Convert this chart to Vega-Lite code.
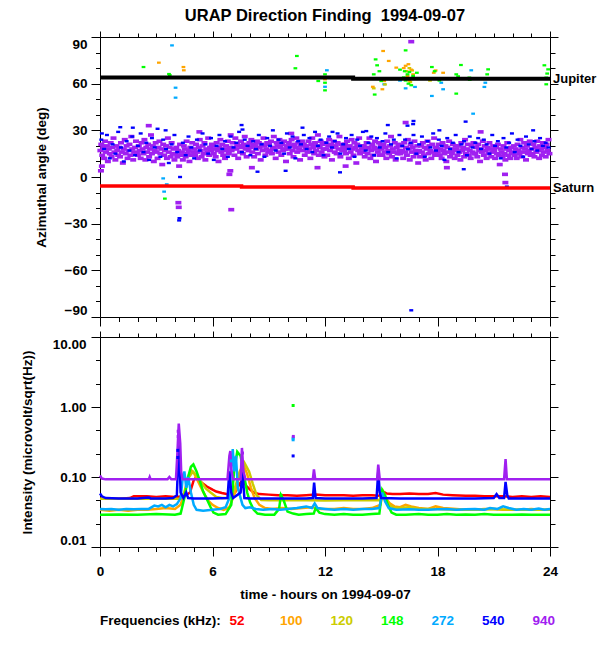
{
  "$schema": "https://vega.github.io/schema/vega-lite/v6.json",
  "background": "white",
  "padding": {"left": 19, "top": 7, "right": 2, "bottom": 2},
  "config": {
    "font": "Liberation Sans",
    "view": {"stroke": "black", "strokeWidth": 1},
    "axis": {
      "domain": false,
      "grid": false,
      "tickColor": "black",
      "tickWidth": 1,
      "labelColor": "black",
      "labelFontSize": 13.5,
      "labelFontWeight": "bold",
      "labelOverlap": false,
      "labelBound": false,
      "titleColor": "black",
      "titleFontSize": 13.5,
      "titleFontWeight": "bold"
    }
  },
  "datasets": {
    "p940": [
      {"t":0.02,"a":17},{"t":0.07,"a":21},{"t":0.12,"a":14},{"t":0.17,"a":19},{"t":0.22,"a":12},{"t":0.27,"a":23},{"t":0.32,"a":16},{"t":0.37,"a":20},{"t":0.42,"a":10},{"t":0.47,"a":18},{"t":0.52,"a":15},{"t":0.57,"a":22},{"t":0.62,"a":13},{"t":0.67,"a":19},{"t":0.72,"a":25},{"t":0.77,"a":16},{"t":0.82,"a":11},{"t":0.87,"a":20},{"t":0.92,"a":17},{"t":0.97,"a":14},
      {"t":1.02,"a":19},{"t":1.07,"a":13},{"t":1.12,"a":22},{"t":1.17,"a":16},{"t":1.22,"a":9},{"t":1.27,"a":18},{"t":1.32,"a":24},{"t":1.37,"a":15},{"t":1.42,"a":20},{"t":1.47,"a":12},{"t":1.52,"a":17},{"t":1.57,"a":21},{"t":1.62,"a":14},{"t":1.67,"a":26},{"t":1.72,"a":18},{"t":1.77,"a":11},{"t":1.82,"a":16},{"t":1.87,"a":19},{"t":1.92,"a":23},{"t":1.97,"a":15},
      {"t":2.02,"a":14},{"t":2.07,"a":20},{"t":2.12,"a":17},{"t":2.17,"a":12},{"t":2.22,"a":22},{"t":2.27,"a":18},{"t":2.32,"a":15},{"t":2.37,"a":24},{"t":2.42,"a":11},{"t":2.47,"a":19},{"t":2.52,"a":16},{"t":2.57,"a":21},{"t":2.62,"a":13},{"t":2.67,"a":18},{"t":2.72,"a":27},{"t":2.77,"a":15},{"t":2.82,"a":20},{"t":2.87,"a":10},{"t":2.92,"a":17},{"t":2.97,"a":22},
      {"t":3.02,"a":16},{"t":3.07,"a":12},{"t":3.12,"a":19},{"t":3.17,"a":23},{"t":3.22,"a":15},{"t":3.27,"a":18},{"t":3.32,"a":8},{"t":3.37,"a":21},{"t":3.42,"a":14},{"t":3.47,"a":17},{"t":3.52,"a":20},{"t":3.57,"a":12},{"t":3.62,"a":25},{"t":3.67,"a":16},{"t":3.72,"a":19},{"t":3.77,"a":13},{"t":3.82,"a":22},{"t":3.87,"a":15},{"t":3.92,"a":18},{"t":3.97,"a":11},
      {"t":4.02,"a":15},{"t":4.07,"a":19},{"t":4.12,"a":13},{"t":4.17,"a":17},{"t":4.22,"a":7},{"t":4.27,"a":21},{"t":4.32,"a":14},{"t":4.37,"a":16},{"t":4.42,"a":11},{"t":4.47,"a":20},{"t":4.52,"a":18},{"t":4.57,"a":13},{"t":4.62,"a":23},{"t":4.67,"a":15},{"t":4.72,"a":17},{"t":4.77,"a":10},{"t":4.82,"a":19},{"t":4.87,"a":14},{"t":4.92,"a":22},{"t":4.97,"a":16},
      {"t":5.02,"a":18},{"t":5.07,"a":14},{"t":5.12,"a":21},{"t":5.17,"a":16},{"t":5.22,"a":12},{"t":5.27,"a":19},{"t":5.32,"a":24},{"t":5.37,"a":17},{"t":5.42,"a":13},{"t":5.47,"a":20},{"t":5.52,"a":15},{"t":5.57,"a":22},{"t":5.62,"a":11},{"t":5.67,"a":18},{"t":5.72,"a":16},{"t":5.77,"a":25},{"t":5.82,"a":14},{"t":5.87,"a":19},{"t":5.92,"a":17},{"t":5.97,"a":21},
      {"t":6.02,"a":20},{"t":6.07,"a":15},{"t":6.12,"a":18},{"t":6.17,"a":13},{"t":6.22,"a":22},{"t":6.27,"a":17},{"t":6.32,"a":10},{"t":6.37,"a":19},{"t":6.42,"a":24},{"t":6.47,"a":16},{"t":6.52,"a":21},{"t":6.57,"a":14},{"t":6.62,"a":18},{"t":6.67,"a":12},{"t":6.72,"a":20},{"t":6.77,"a":17},{"t":6.82,"a":23},{"t":6.87,"a":15},{"t":6.92,"a":19},{"t":6.97,"a":27},
      {"t":7.02,"a":17},{"t":7.07,"a":22},{"t":7.12,"a":19},{"t":7.17,"a":14},{"t":7.22,"a":25},{"t":7.27,"a":18},{"t":7.32,"a":21},{"t":7.37,"a":12},{"t":7.42,"a":20},{"t":7.47,"a":16},{"t":7.52,"a":23},{"t":7.57,"a":19},{"t":7.62,"a":15},{"t":7.67,"a":21},{"t":7.72,"a":26},{"t":7.77,"a":18},{"t":7.82,"a":13},{"t":7.87,"a":20},{"t":7.92,"a":17},{"t":7.97,"a":22},
      {"t":8.02,"a":19},{"t":8.07,"a":24},{"t":8.12,"a":16},{"t":8.17,"a":21},{"t":8.22,"a":13},{"t":8.27,"a":20},{"t":8.32,"a":18},{"t":8.37,"a":23},{"t":8.42,"a":15},{"t":8.47,"a":22},{"t":8.52,"a":19},{"t":8.57,"a":11},{"t":8.62,"a":21},{"t":8.67,"a":17},{"t":8.72,"a":25},{"t":8.77,"a":20},{"t":8.82,"a":14},{"t":8.87,"a":18},{"t":8.92,"a":22},{"t":8.97,"a":16},
      {"t":9.02,"a":21},{"t":9.07,"a":17},{"t":9.12,"a":23},{"t":9.17,"a":15},{"t":9.22,"a":19},{"t":9.27,"a":26},{"t":9.32,"a":18},{"t":9.37,"a":12},{"t":9.42,"a":22},{"t":9.47,"a":20},{"t":9.52,"a":16},{"t":9.57,"a":24},{"t":9.62,"a":19},{"t":9.67,"a":14},{"t":9.72,"a":21},{"t":9.77,"a":17},{"t":9.82,"a":23},{"t":9.87,"a":18},{"t":9.92,"a":10},{"t":9.97,"a":20},
      {"t":10.02,"a":18},{"t":10.07,"a":22},{"t":10.12,"a":15},{"t":10.17,"a":20},{"t":10.22,"a":24},{"t":10.27,"a":17},{"t":10.32,"a":13},{"t":10.37,"a":21},{"t":10.42,"a":19},{"t":10.47,"a":25},{"t":10.52,"a":16},{"t":10.57,"a":22},{"t":10.62,"a":18},{"t":10.67,"a":11},{"t":10.72,"a":20},{"t":10.77,"a":23},{"t":10.82,"a":17},{"t":10.87,"a":21},{"t":10.92,"a":14},{"t":10.97,"a":19},
      {"t":11.02,"a":20},{"t":11.07,"a":16},{"t":11.12,"a":23},{"t":11.17,"a":18},{"t":11.22,"a":12},{"t":11.27,"a":21},{"t":11.32,"a":25},{"t":11.37,"a":19},{"t":11.42,"a":15},{"t":11.47,"a":22},{"t":11.52,"a":17},{"t":11.57,"a":20},{"t":11.62,"a":27},{"t":11.67,"a":14},{"t":11.72,"a":19},{"t":11.77,"a":23},{"t":11.82,"a":16},{"t":11.87,"a":21},{"t":11.92,"a":18},{"t":11.97,"a":13},
      {"t":12.02,"a":22},{"t":12.07,"a":18},{"t":12.12,"a":14},{"t":12.17,"a":20},{"t":12.22,"a":24},{"t":12.27,"a":17},{"t":12.32,"a":21},{"t":12.37,"a":11},{"t":12.42,"a":19},{"t":12.47,"a":23},{"t":12.52,"a":16},{"t":12.57,"a":20},{"t":12.62,"a":15},{"t":12.67,"a":22},{"t":12.72,"a":18},{"t":12.77,"a":26},{"t":12.82,"a":13},{"t":12.87,"a":21},{"t":12.92,"a":17},{"t":12.97,"a":19},
      {"t":13.02,"a":17},{"t":13.07,"a":21},{"t":13.12,"a":15},{"t":13.17,"a":23},{"t":13.22,"a":19},{"t":13.27,"a":12},{"t":13.32,"a":20},{"t":13.37,"a":16},{"t":13.42,"a":24},{"t":13.47,"a":18},{"t":13.52,"a":14},{"t":13.57,"a":22},{"t":13.62,"a":19},{"t":13.67,"a":9},{"t":13.72,"a":21},{"t":13.77,"a":17},{"t":13.82,"a":25},{"t":13.87,"a":15},{"t":13.92,"a":20},{"t":13.97,"a":18},
      {"t":14.02,"a":16},{"t":14.07,"a":20},{"t":14.12,"a":13},{"t":14.17,"a":18},{"t":14.22,"a":22},{"t":14.27,"a":15},{"t":14.32,"a":19},{"t":14.37,"a":25},{"t":14.42,"a":12},{"t":14.47,"a":17},{"t":14.52,"a":21},{"t":14.57,"a":14},{"t":14.62,"a":19},{"t":14.67,"a":23},{"t":14.72,"a":10},{"t":14.77,"a":18},{"t":14.82,"a":16},{"t":14.87,"a":22},{"t":14.92,"a":14},{"t":14.97,"a":20},
      {"t":15.02,"a":18},{"t":15.07,"a":14},{"t":15.12,"a":21},{"t":15.17,"a":16},{"t":15.22,"a":19},{"t":15.27,"a":12},{"t":15.32,"a":23},{"t":15.37,"a":17},{"t":15.42,"a":15},{"t":15.47,"a":20},{"t":15.52,"a":26},{"t":15.57,"a":13},{"t":15.62,"a":18},{"t":15.67,"a":16},{"t":15.72,"a":22},{"t":15.77,"a":11},{"t":15.82,"a":19},{"t":15.87,"a":15},{"t":15.92,"a":21},{"t":15.97,"a":17},
      {"t":16.02,"a":15},{"t":16.07,"a":20},{"t":16.12,"a":17},{"t":16.17,"a":12},{"t":16.22,"a":22},{"t":16.27,"a":16},{"t":16.32,"a":19},{"t":16.37,"a":14},{"t":16.42,"a":24},{"t":16.47,"a":18},{"t":16.52,"a":11},{"t":16.57,"a":21},{"t":16.62,"a":16},{"t":16.67,"a":19},{"t":16.72,"a":13},{"t":16.77,"a":23},{"t":16.82,"a":17},{"t":16.87,"a":15},{"t":16.92,"a":20},{"t":16.97,"a":9},
      {"t":17.02,"a":17},{"t":17.07,"a":13},{"t":17.12,"a":20},{"t":17.17,"a":16},{"t":17.22,"a":22},{"t":17.27,"a":14},{"t":17.32,"a":19},{"t":17.37,"a":11},{"t":17.42,"a":18},{"t":17.47,"a":23},{"t":17.52,"a":15},{"t":17.57,"a":20},{"t":17.62,"a":17},{"t":17.67,"a":12},{"t":17.72,"a":21},{"t":17.77,"a":16},{"t":17.82,"a":25},{"t":17.87,"a":14},{"t":17.92,"a":19},{"t":17.97,"a":18},
      {"t":18.02,"a":16},{"t":18.07,"a":21},{"t":18.12,"a":14},{"t":18.17,"a":18},{"t":18.22,"a":12},{"t":18.27,"a":22},{"t":18.32,"a":17},{"t":18.37,"a":15},{"t":18.42,"a":20},{"t":18.47,"a":10},{"t":18.52,"a":19},{"t":18.57,"a":16},{"t":18.62,"a":23},{"t":18.67,"a":13},{"t":18.72,"a":18},{"t":18.77,"a":15},{"t":18.82,"a":21},{"t":18.87,"a":17},{"t":18.92,"a":12},{"t":18.97,"a":20},
      {"t":19.02,"a":18},{"t":19.07,"a":14},{"t":19.12,"a":20},{"t":19.17,"a":16},{"t":19.22,"a":11},{"t":19.27,"a":22},{"t":19.32,"a":17},{"t":19.37,"a":19},{"t":19.42,"a":13},{"t":19.47,"a":24},{"t":19.52,"a":15},{"t":19.57,"a":18},{"t":19.62,"a":21},{"t":19.67,"a":14},{"t":19.72,"a":17},{"t":19.77,"a":12},{"t":19.82,"a":20},{"t":19.87,"a":16},{"t":19.92,"a":22},{"t":19.97,"a":15},
      {"t":20.02,"a":15},{"t":20.07,"a":19},{"t":20.12,"a":13},{"t":20.17,"a":21},{"t":20.22,"a":17},{"t":20.27,"a":10},{"t":20.32,"a":18},{"t":20.37,"a":16},{"t":20.42,"a":23},{"t":20.47,"a":14},{"t":20.52,"a":20},{"t":20.57,"a":17},{"t":20.62,"a":12},{"t":20.67,"a":19},{"t":20.72,"a":15},{"t":20.77,"a":22},{"t":20.82,"a":18},{"t":20.87,"a":13},{"t":20.92,"a":16},{"t":20.97,"a":20},
      {"t":21.02,"a":17},{"t":21.07,"a":12},{"t":21.12,"a":19},{"t":21.17,"a":15},{"t":21.22,"a":21},{"t":21.27,"a":14},{"t":21.32,"a":8},{"t":21.37,"a":18},{"t":21.42,"a":16},{"t":21.47,"a":13},{"t":21.52,"a":20},{"t":21.57,"a":15},{"t":21.62,"a":11},{"t":21.67,"a":18},{"t":21.72,"a":22},{"t":21.77,"a":14},{"t":21.82,"a":17},{"t":21.87,"a":12},{"t":21.92,"a":19},{"t":21.97,"a":15},
      {"t":22.02,"a":16},{"t":22.07,"a":20},{"t":22.12,"a":14},{"t":22.17,"a":18},{"t":22.22,"a":12},{"t":22.27,"a":21},{"t":22.32,"a":17},{"t":22.37,"a":15},{"t":22.42,"a":24},{"t":22.47,"a":13},{"t":22.52,"a":19},{"t":22.57,"a":16},{"t":22.62,"a":22},{"t":22.67,"a":18},{"t":22.72,"a":11},{"t":22.77,"a":20},{"t":22.82,"a":15},{"t":22.87,"a":17},{"t":22.92,"a":23},{"t":22.97,"a":14},
      {"t":23.02,"a":18},{"t":23.07,"a":15},{"t":23.12,"a":21},{"t":23.17,"a":13},{"t":23.22,"a":19},{"t":23.27,"a":16},{"t":23.32,"a":23},{"t":23.37,"a":17},{"t":23.42,"a":12},{"t":23.47,"a":20},{"t":23.52,"a":18},{"t":23.57,"a":14},{"t":23.62,"a":22},{"t":23.67,"a":16},{"t":23.72,"a":19},{"t":23.77,"a":13},{"t":23.82,"a":21},{"t":23.87,"a":17},{"t":23.92,"a":24},{"t":23.97,"a":15},
      {"t":2.6,"a":33},{"t":6.9,"a":1.7},{"t":6.95,"a":4},{"t":7.0,"a":-21},{"t":16.3,"a":35},{"t":16.6,"a":87},{"t":21.6,"a":1.7},{"t":21.62,"a":-3.6},{"t":4.18,"a":-16.5},{"t":4.2,"a":-19.5},{"t":8.1,"a":6},{"t":13.1,"a":7},{"t":18.5,"a":6},{"t":10.2,"a":28},{"t":5.3,"a":29},{"t":20.3,"a":29},{"t":0.05,"a":4},{"t":0.1,"a":7},{"t":11.6,"a":6}
    ],
    "b540": [
      {"t":0.07,"a":24},{"t":0.22,"a":18},{"t":0.37,"a":27},{"t":0.52,"a":12},{"t":0.67,"a":21},{"t":0.82,"a":15},{"t":0.97,"a":29},{"t":1.12,"a":19},{"t":1.27,"a":10},{"t":1.42,"a":23},{"t":1.57,"a":17},{"t":1.72,"a":26},{"t":1.87,"a":14},{"t":2.02,"a":20},{"t":2.17,"a":28},{"t":2.32,"a":16},{"t":2.47,"a":22},{"t":2.62,"a":11},{"t":2.77,"a":25},{"t":2.92,"a":19},{"t":3.07,"a":31},{"t":3.22,"a":13},{"t":3.37,"a":24},{"t":3.52,"a":18},{"t":3.67,"a":9},{"t":3.82,"a":21},{"t":3.97,"a":27},
      {"t":4.12,"a":16},{"t":4.27,"a":0},{"t":4.42,"a":22},{"t":4.57,"a":14},{"t":4.72,"a":26},{"t":4.87,"a":19},{"t":5.02,"a":12},{"t":5.17,"a":24},{"t":5.32,"a":17},{"t":5.47,"a":28},{"t":5.62,"a":21},{"t":5.77,"a":15},{"t":5.92,"a":25},{"t":6.07,"a":11},{"t":6.22,"a":20},{"t":6.37,"a":27},{"t":6.52,"a":18},{"t":6.67,"a":23},{"t":6.82,"a":13},{"t":6.97,"a":26},{"t":7.12,"a":19},{"t":7.27,"a":22},{"t":7.42,"a":29},{"t":7.57,"a":16},{"t":7.72,"a":24},{"t":7.87,"a":20},{"t":8.02,"a":14},
      {"t":8.17,"a":23},{"t":8.32,"a":18},{"t":8.47,"a":27},{"t":8.62,"a":21},{"t":8.77,"a":13},{"t":8.92,"a":25},{"t":9.07,"a":20},{"t":9.22,"a":30},{"t":9.37,"a":17},{"t":9.52,"a":24},{"t":9.67,"a":22},{"t":9.82,"a":15},{"t":9.97,"a":28},{"t":10.12,"a":19},{"t":10.27,"a":26},{"t":10.42,"a":12},{"t":10.57,"a":23},{"t":10.72,"a":21},{"t":10.87,"a":27},{"t":11.02,"a":18},{"t":11.17,"a":25},{"t":11.32,"a":16},{"t":11.47,"a":29},{"t":11.62,"a":20},{"t":11.77,"a":24},{"t":11.92,"a":14},{"t":12.07,"a":22},
      {"t":12.22,"a":26},{"t":12.37,"a":19},{"t":12.52,"a":23},{"t":12.67,"a":28},{"t":12.82,"a":15},{"t":12.97,"a":21},{"t":13.12,"a":25},{"t":13.27,"a":18},{"t":13.42,"a":27},{"t":13.57,"a":13},{"t":13.72,"a":24},{"t":13.87,"a":20},{"t":14.02,"a":29},{"t":14.17,"a":17},{"t":14.32,"a":22},{"t":14.47,"a":26},{"t":14.62,"a":14},{"t":14.77,"a":25},{"t":14.92,"a":19},{"t":15.07,"a":23},{"t":15.22,"a":28},{"t":15.37,"a":16},{"t":15.52,"a":21},{"t":15.67,"a":24},{"t":15.82,"a":12},{"t":15.97,"a":27},{"t":16.12,"a":20},
      {"t":16.27,"a":24},{"t":16.42,"a":18},{"t":16.57,"a":22},{"t":16.72,"a":27},{"t":16.87,"a":15},{"t":17.02,"a":21},{"t":17.17,"a":26},{"t":17.32,"a":13},{"t":17.47,"a":23},{"t":17.62,"a":19},{"t":17.77,"a":28},{"t":17.92,"a":17},{"t":18.07,"a":24},{"t":18.22,"a":20},{"t":18.37,"a":11},{"t":18.52,"a":25},{"t":18.67,"a":18},{"t":18.82,"a":22},{"t":18.97,"a":27},{"t":19.12,"a":16},{"t":19.27,"a":21},{"t":19.42,"a":23},{"t":19.57,"a":14},{"t":19.72,"a":26},{"t":19.87,"a":19},{"t":20.02,"a":22},{"t":20.17,"a":25},
      {"t":20.32,"a":18},{"t":20.47,"a":24},{"t":20.62,"a":21},{"t":20.77,"a":15},{"t":20.92,"a":27},{"t":21.07,"a":20},{"t":21.22,"a":23},{"t":21.37,"a":12},{"t":21.52,"a":25},{"t":21.67,"a":19},{"t":21.82,"a":22},{"t":21.97,"a":28},{"t":22.12,"a":16},{"t":22.27,"a":24},{"t":22.42,"a":20},{"t":22.57,"a":13},{"t":22.72,"a":26},{"t":22.87,"a":21},{"t":23.02,"a":18},{"t":23.17,"a":23},{"t":23.32,"a":17},{"t":23.47,"a":25},{"t":23.62,"a":20},{"t":23.77,"a":22},{"t":23.92,"a":19},
      {"t":4.22,"a":-27.9},{"t":4.24,"a":-26.5},{"t":7.55,"a":33.4},{"t":10.8,"a":31.7},{"t":1.08,"a":32},{"t":1.75,"a":31.7},{"t":15.35,"a":33.4},{"t":16.4,"a":33},{"t":16.7,"a":34},{"t":16.72,"a":36},{"t":16.6,"a":-85.7},{"t":19.5,"a":35.6},{"t":23.1,"a":30},{"t":21.7,"a":-6.2},{"t":8.4,"a":3.4},{"t":19.4,"a":5},{"t":7.6,"a":30.5},{"t":12.4,"a":29},{"t":14.2,"a":29.5},{"t":18.1,"a":30},{"t":3.5,"a":30},{"t":12.8,"a":3},{"t":9.9,"a":4},{"t":0.1,"a":28}
    ],
    "c272": [
      {"t":3.84,"a":84.6},{"t":4.03,"a":57.4},{"t":4.03,"a":51},{"t":3.37,"a":-0.9},{"t":3.42,"a":-9.4},{"t":3.56,"a":-4.7},{"t":12.1,"a":68.6},{"t":12.0,"a":58},{"t":15.16,"a":59.6},{"t":16.8,"a":57.9},{"t":18.2,"a":60.6},{"t":18.3,"a":56.4},{"t":17.7,"a":52.1},{"t":19.8,"a":68.6},{"t":19.9,"a":40.7},{"t":20.5,"a":57.9},{"t":20.55,"a":60.6},{"t":16.3,"a":57},{"t":16.0,"a":62}
    ],
    "g148": [
      {"t":2.32,"a":70.7},{"t":3.7,"a":64},{"t":3.72,"a":65.5},{"t":3.68,"a":66.2},{"t":3.46,"a":-13.9},{"t":10.5,"a":77.8},{"t":10.42,"a":69.9},{"t":11.64,"a":61.7},{"t":12.0,"a":66},{"t":12.0,"a":60.6},{"t":12.0,"a":55.7},{"t":14.7,"a":75.6},{"t":14.78,"a":71.8},{"t":14.6,"a":66},{"t":14.9,"a":68},{"t":14.65,"a":53},{"t":15.0,"a":61.7},{"t":16.3,"a":81.4},{"t":16.2,"a":64},{"t":16.3,"a":62},{"t":16.4,"a":66},{"t":16.45,"a":60},{"t":16.5,"a":67.5},{"t":16.55,"a":63},{"t":16.6,"a":59},{"t":16.7,"a":65},{"t":16.25,"a":68},{"t":16.9,"a":67},{"t":17.7,"a":70.7},{"t":17.85,"a":68},{"t":19.0,"a":66},{"t":19.1,"a":64.7},{"t":19.25,"a":72},{"t":19.0,"a":53.6},{"t":19.7,"a":63.9},{"t":19.72,"a":62.5},{"t":20.7,"a":69.2},{"t":20.65,"a":66},{"t":23.7,"a":71.8},{"t":23.8,"a":63.9},{"t":23.8,"a":59.6},{"t":23.9,"a":69.2},{"t":23.85,"a":66.5},{"t":16.0,"a":69},{"t":15.5,"a":63},{"t":18.1,"a":62}
    ],
    "o100": [
      {"t":3.14,"a":73.5},{"t":4.45,"a":70.7},{"t":4.47,"a":68.6},{"t":12.0,"a":62.8},{"t":15.1,"a":81},{"t":15.4,"a":74.6},{"t":15.16,"a":61.7},{"t":15.06,"a":56.4},{"t":15.8,"a":70.3},{"t":16.2,"a":70},{"t":16.3,"a":71.5},{"t":16.35,"a":68},{"t":16.4,"a":65},{"t":16.5,"a":62},{"t":16.45,"a":72.5},{"t":16.6,"a":69},{"t":16.7,"a":66},{"t":17.8,"a":67},{"t":17.9,"a":68.5},{"t":18.3,"a":67},{"t":14.55,"a":58}
    ],
    "y120": [
      {"t":16.4,"a":63},{"t":16.5,"a":70},{"t":16.55,"a":61},{"t":15.2,"a":59.5},{"t":14.6,"a":57},{"t":17.6,"a":62},{"t":16.65,"a":68.5}
    ],
    "jup": [
      {"t":0,"a":63.9},{"t":13.5,"a":63.2},{"t":24,"a":63.2}
    ],
    "sat": [
      {"t":0,"a":-5.8},{"t":7.55,"a":-6.4},{"t":13.5,"a":-7.1},{"t":24,"a":-7.1}
    ],
    "names": [
      {"t":24,"a":63.2,"n":"Jupiter"},{"t":24,"a":-7.1,"n":"Saturn"}
    ],
    "int": [
      {"t":0,"v":0.049,"f":"52"},{"t":0.5,"v":0.049,"f":"52"},{"t":1,"v":0.049,"f":"52"},{"t":1.6,"v":0.05,"f":"52"},{"t":1.8,"v":0.053,"f":"52"},{"t":2.5,"v":0.053,"f":"52"},{"t":3,"v":0.052,"f":"52"},{"t":3.5,"v":0.053,"f":"52"},{"t":4,"v":0.052,"f":"52"},{"t":4.5,"v":0.053,"f":"52"},{"t":4.8,"v":0.06,"f":"52"},{"t":5,"v":0.09,"f":"52"},{"t":5.1,"v":0.097,"f":"52"},{"t":5.3,"v":0.088,"f":"52"},{"t":5.5,"v":0.08,"f":"52"},{"t":5.7,"v":0.073,"f":"52"},{"t":6,"v":0.066,"f":"52"},{"t":6.2,"v":0.062,"f":"52"},{"t":6.5,"v":0.059,"f":"52"},{"t":6.75,"v":0.057,"f":"52"},{"t":7,"v":0.056,"f":"52"},{"t":7.2,"v":0.06,"f":"52"},{"t":7.45,"v":0.08,"f":"52"},{"t":7.6,"v":0.09,"f":"52"},{"t":7.8,"v":0.075,"f":"52"},{"t":8,"v":0.066,"f":"52"},{"t":8.2,"v":0.06,"f":"52"},{"t":8.5,"v":0.057,"f":"52"},{"t":9,"v":0.056,"f":"52"},{"t":9.5,"v":0.055,"f":"52"},{"t":10,"v":0.055,"f":"52"},{"t":10.5,"v":0.054,"f":"52"},{"t":11,"v":0.055,"f":"52"},{"t":11.5,"v":0.056,"f":"52"},{"t":12,"v":0.055,"f":"52"},{"t":12.5,"v":0.055,"f":"52"},{"t":13,"v":0.055,"f":"52"},{"t":13.5,"v":0.054,"f":"52"},{"t":14,"v":0.055,"f":"52"},{"t":14.5,"v":0.055,"f":"52"},{"t":14.9,"v":0.054,"f":"52"},{"t":15.1,"v":0.062,"f":"52"},{"t":15.3,"v":0.058,"f":"52"},{"t":15.6,"v":0.057,"f":"52"},{"t":16,"v":0.057,"f":"52"},{"t":16.5,"v":0.058,"f":"52"},{"t":17,"v":0.057,"f":"52"},{"t":17.5,"v":0.057,"f":"52"},{"t":17.9,"v":0.059,"f":"52"},{"t":18.3,"v":0.056,"f":"52"},{"t":18.8,"v":0.055,"f":"52"},{"t":19.5,"v":0.054,"f":"52"},{"t":20,"v":0.054,"f":"52"},{"t":20.5,"v":0.053,"f":"52"},{"t":21,"v":0.053,"f":"52"},{"t":21.5,"v":0.053,"f":"52"},{"t":22,"v":0.052,"f":"52"},{"t":22.5,"v":0.053,"f":"52"},{"t":23,"v":0.052,"f":"52"},{"t":23.5,"v":0.053,"f":"52"},{"t":24,"v":0.052,"f":"52"},
      {"t":0,"v":0.034,"f":"100"},{"t":0.5,"v":0.033,"f":"100"},{"t":1,"v":0.034,"f":"100"},{"t":1.5,"v":0.033,"f":"100"},{"t":2,"v":0.034,"f":"100"},{"t":2.5,"v":0.034,"f":"100"},{"t":3,"v":0.035,"f":"100"},{"t":3.5,"v":0.036,"f":"100"},{"t":4,"v":0.035,"f":"100"},{"t":4.3,"v":0.04,"f":"100"},{"t":4.5,"v":0.06,"f":"100"},{"t":4.7,"v":0.1,"f":"100"},{"t":4.85,"v":0.125,"f":"100"},{"t":5,"v":0.115,"f":"100"},{"t":5.2,"v":0.09,"f":"100"},{"t":5.4,"v":0.07,"f":"100"},{"t":5.6,"v":0.055,"f":"100"},{"t":5.8,"v":0.045,"f":"100"},{"t":6,"v":0.04,"f":"100"},{"t":6.3,"v":0.036,"f":"100"},{"t":6.6,"v":0.034,"f":"100"},{"t":6.9,"v":0.037,"f":"100"},{"t":7.2,"v":0.06,"f":"100"},{"t":7.45,"v":0.11,"f":"100"},{"t":7.65,"v":0.15,"f":"100"},{"t":7.85,"v":0.11,"f":"100"},{"t":8.05,"v":0.07,"f":"100"},{"t":8.25,"v":0.05,"f":"100"},{"t":8.5,"v":0.04,"f":"100"},{"t":8.8,"v":0.036,"f":"100"},{"t":9.2,"v":0.035,"f":"100"},{"t":9.7,"v":0.036,"f":"100"},{"t":10.2,"v":0.035,"f":"100"},{"t":10.8,"v":0.036,"f":"100"},{"t":11.3,"v":0.037,"f":"100"},{"t":11.8,"v":0.035,"f":"100"},{"t":12.5,"v":0.035,"f":"100"},{"t":13,"v":0.036,"f":"100"},{"t":13.5,"v":0.035,"f":"100"},{"t":14,"v":0.035,"f":"100"},{"t":14.5,"v":0.036,"f":"100"},{"t":14.95,"v":0.04,"f":"100"},{"t":15.1,"v":0.062,"f":"100"},{"t":15.25,"v":0.05,"f":"100"},{"t":15.45,"v":0.042,"f":"100"},{"t":15.7,"v":0.038,"f":"100"},{"t":16,"v":0.037,"f":"100"},{"t":16.3,"v":0.04,"f":"100"},{"t":16.6,"v":0.038,"f":"100"},{"t":17,"v":0.036,"f":"100"},{"t":17.5,"v":0.035,"f":"100"},{"t":17.9,"v":0.038,"f":"100"},{"t":18.3,"v":0.036,"f":"100"},{"t":19,"v":0.035,"f":"100"},{"t":19.5,"v":0.034,"f":"100"},{"t":20,"v":0.034,"f":"100"},{"t":20.5,"v":0.035,"f":"100"},{"t":21,"v":0.035,"f":"100"},{"t":21.5,"v":0.034,"f":"100"},{"t":22,"v":0.034,"f":"100"},{"t":22.5,"v":0.034,"f":"100"},{"t":23,"v":0.035,"f":"100"},{"t":23.5,"v":0.034,"f":"100"},{"t":24,"v":0.034,"f":"100"},
      {"t":0,"v":0.049,"f":"120"},{"t":1,"v":0.049,"f":"120"},{"t":2,"v":0.049,"f":"120"},{"t":3,"v":0.049,"f":"120"},{"t":4.3,"v":0.049,"f":"120"},{"t":4.5,"v":0.06,"f":"120"},{"t":4.75,"v":0.1,"f":"120"},{"t":4.95,"v":0.12,"f":"120"},{"t":5.15,"v":0.105,"f":"120"},{"t":5.4,"v":0.085,"f":"120"},{"t":5.65,"v":0.068,"f":"120"},{"t":5.9,"v":0.06,"f":"120"},{"t":6.2,"v":0.052,"f":"120"},{"t":6.5,"v":0.05,"f":"120"},{"t":6.9,"v":0.05,"f":"120"},{"t":7.2,"v":0.07,"f":"120"},{"t":7.45,"v":0.12,"f":"120"},{"t":7.7,"v":0.16,"f":"120"},{"t":7.95,"v":0.12,"f":"120"},{"t":8.15,"v":0.08,"f":"120"},{"t":8.35,"v":0.055,"f":"120"},{"t":8.6,"v":0.047,"f":"120"},{"t":9,"v":0.0465,"f":"120"},{"t":10,"v":0.0465,"f":"120"},{"t":11,"v":0.0465,"f":"120"},{"t":12,"v":0.046,"f":"120"},{"t":13,"v":0.0465,"f":"120"},{"t":14,"v":0.0465,"f":"120"},{"t":14.9,"v":0.0465,"f":"120"},{"t":15.05,"v":0.06,"f":"120"},{"t":15.2,"v":0.05,"f":"120"},{"t":15.4,"v":0.04,"f":"120"},{"t":15.7,"v":0.036,"f":"120"},{"t":16,"v":0.036,"f":"120"},{"t":16.5,"v":0.037,"f":"120"},{"t":17,"v":0.035,"f":"120"},{"t":18,"v":0.035,"f":"120"},{"t":19,"v":0.034,"f":"120"},{"t":20,"v":0.034,"f":"120"},{"t":21,"v":0.035,"f":"120"},{"t":22,"v":0.034,"f":"120"},{"t":23,"v":0.034,"f":"120"},{"t":24,"v":0.034,"f":"120"},
      {"t":0,"v":0.029,"f":"148"},{"t":1,"v":0.0292,"f":"148"},{"t":2,"v":0.029,"f":"148"},{"t":3,"v":0.0295,"f":"148"},{"t":4,"v":0.029,"f":"148"},{"t":4.3,"v":0.03,"f":"148"},{"t":4.5,"v":0.05,"f":"148"},{"t":4.7,"v":0.1,"f":"148"},{"t":4.85,"v":0.14,"f":"148"},{"t":4.98,"v":0.151,"f":"148"},{"t":5.15,"v":0.12,"f":"148"},{"t":5.33,"v":0.087,"f":"148"},{"t":5.5,"v":0.062,"f":"148"},{"t":5.7,"v":0.048,"f":"148"},{"t":5.9,"v":0.037,"f":"148"},{"t":6.05,"v":0.031,"f":"148"},{"t":6.3,"v":0.029,"f":"148"},{"t":6.7,"v":0.0295,"f":"148"},{"t":7,"v":0.04,"f":"148"},{"t":7.15,"v":0.12,"f":"148"},{"t":7.32,"v":0.23,"f":"148"},{"t":7.5,"v":0.2,"f":"148"},{"t":7.7,"v":0.1,"f":"148"},{"t":7.85,"v":0.06,"f":"148"},{"t":8,"v":0.044,"f":"148"},{"t":8.2,"v":0.034,"f":"148"},{"t":8.4,"v":0.03,"f":"148"},{"t":8.8,"v":0.029,"f":"148"},{"t":9.3,"v":0.029,"f":"148"},{"t":9.55,"v":0.035,"f":"148"},{"t":9.65,"v":0.055,"f":"148"},{"t":9.8,"v":0.046,"f":"148"},{"t":10,"v":0.032,"f":"148"},{"t":10.3,"v":0.03,"f":"148"},{"t":10.6,"v":0.029,"f":"148"},{"t":11,"v":0.0295,"f":"148"},{"t":11.4,"v":0.03,"f":"148"},{"t":11.5,"v":0.036,"f":"148"},{"t":11.7,"v":0.031,"f":"148"},{"t":12,"v":0.0295,"f":"148"},{"t":12.5,"v":0.029,"f":"148"},{"t":13,"v":0.0295,"f":"148"},{"t":13.5,"v":0.029,"f":"148"},{"t":14,"v":0.029,"f":"148"},{"t":14.5,"v":0.0295,"f":"148"},{"t":14.9,"v":0.03,"f":"148"},{"t":15.05,"v":0.065,"f":"148"},{"t":15.2,"v":0.055,"f":"148"},{"t":15.35,"v":0.04,"f":"148"},{"t":15.55,"v":0.031,"f":"148"},{"t":15.8,"v":0.029,"f":"148"},{"t":16.3,"v":0.029,"f":"148"},{"t":17,"v":0.0295,"f":"148"},{"t":17.5,"v":0.029,"f":"148"},{"t":18,"v":0.029,"f":"148"},{"t":18.5,"v":0.0295,"f":"148"},{"t":19,"v":0.029,"f":"148"},{"t":19.5,"v":0.0292,"f":"148"},{"t":20,"v":0.029,"f":"148"},{"t":20.5,"v":0.0295,"f":"148"},{"t":21,"v":0.029,"f":"148"},{"t":21.5,"v":0.029,"f":"148"},{"t":22,"v":0.029,"f":"148"},{"t":22.5,"v":0.0292,"f":"148"},{"t":23,"v":0.029,"f":"148"},{"t":23.5,"v":0.029,"f":"148"},{"t":24,"v":0.029,"f":"148"},
      {"t":0,"v":0.035,"f":"272"},{"t":0.3,"v":0.0345,"f":"272"},{"t":0.6,"v":0.035,"f":"272"},{"t":1,"v":0.034,"f":"272"},{"t":1.4,"v":0.035,"f":"272"},{"t":1.8,"v":0.0345,"f":"272"},{"t":2.2,"v":0.035,"f":"272"},{"t":2.6,"v":0.035,"f":"272"},{"t":2.9,"v":0.039,"f":"272"},{"t":3.1,"v":0.038,"f":"272"},{"t":3.3,"v":0.04,"f":"272"},{"t":3.5,"v":0.037,"f":"272"},{"t":3.7,"v":0.04,"f":"272"},{"t":3.9,"v":0.038,"f":"272"},{"t":4.1,"v":0.041,"f":"272"},{"t":4.3,"v":0.05,"f":"272"},{"t":4.4,"v":0.09,"f":"272"},{"t":4.5,"v":0.12,"f":"272"},{"t":4.6,"v":0.07,"f":"272"},{"t":4.7,"v":0.1,"f":"272"},{"t":4.85,"v":0.06,"f":"272"},{"t":5,"v":0.04,"f":"272"},{"t":5.15,"v":0.034,"f":"272"},{"t":5.5,"v":0.033,"f":"272"},{"t":6,"v":0.034,"f":"272"},{"t":6.4,"v":0.035,"f":"272"},{"t":6.7,"v":0.037,"f":"272"},{"t":6.9,"v":0.05,"f":"272"},{"t":7,"v":0.15,"f":"272"},{"t":7.08,"v":0.25,"f":"272"},{"t":7.15,"v":0.12,"f":"272"},{"t":7.25,"v":0.2,"f":"272"},{"t":7.35,"v":0.07,"f":"272"},{"t":7.5,"v":0.05,"f":"272"},{"t":7.6,"v":0.04,"f":"272"},{"t":7.75,"v":0.036,"f":"272"},{"t":8,"v":0.037,"f":"272"},{"t":8.3,"v":0.035,"f":"272"},{"t":8.7,"v":0.034,"f":"272"},{"t":9.2,"v":0.035,"f":"272"},{"t":9.6,"v":0.034,"f":"272"},{"t":10,"v":0.035,"f":"272"},{"t":10.5,"v":0.036,"f":"272"},{"t":11,"v":0.038,"f":"272"},{"t":11.3,"v":0.036,"f":"272"},{"t":11.45,"v":0.042,"f":"272"},{"t":11.6,"v":0.036,"f":"272"},{"t":12,"v":0.035,"f":"272"},{"t":12.5,"v":0.034,"f":"272"},{"t":13,"v":0.035,"f":"272"},{"t":13.5,"v":0.034,"f":"272"},{"t":14,"v":0.035,"f":"272"},{"t":14.5,"v":0.035,"f":"272"},{"t":14.9,"v":0.036,"f":"272"},{"t":15.05,"v":0.06,"f":"272"},{"t":15.2,"v":0.045,"f":"272"},{"t":15.4,"v":0.036,"f":"272"},{"t":15.8,"v":0.034,"f":"272"},{"t":16.5,"v":0.0345,"f":"272"},{"t":17,"v":0.034,"f":"272"},{"t":17.5,"v":0.034,"f":"272"},{"t":18,"v":0.0345,"f":"272"},{"t":18.5,"v":0.035,"f":"272"},{"t":19,"v":0.034,"f":"272"},{"t":19.5,"v":0.0345,"f":"272"},{"t":20,"v":0.035,"f":"272"},{"t":20.5,"v":0.034,"f":"272"},{"t":20.8,"v":0.036,"f":"272"},{"t":21.2,"v":0.035,"f":"272"},{"t":21.5,"v":0.038,"f":"272"},{"t":21.8,"v":0.036,"f":"272"},{"t":22.2,"v":0.034,"f":"272"},{"t":22.6,"v":0.035,"f":"272"},{"t":23,"v":0.034,"f":"272"},{"t":23.4,"v":0.0355,"f":"272"},{"t":23.7,"v":0.034,"f":"272"},{"t":24,"v":0.035,"f":"272"},
      {"t":0,"v":0.058,"f":"540"},{"t":0.1,"v":0.053,"f":"540"},{"t":0.3,"v":0.05,"f":"540"},{"t":1,"v":0.0495,"f":"540"},{"t":2,"v":0.0495,"f":"540"},{"t":2.6,"v":0.051,"f":"540"},{"t":2.7,"v":0.0495,"f":"540"},{"t":3.5,"v":0.0495,"f":"540"},{"t":3.9,"v":0.05,"f":"540"},{"t":4.1,"v":0.055,"f":"540"},{"t":4.2,"v":0.3,"f":"540"},{"t":4.25,"v":0.15,"f":"540"},{"t":4.3,"v":0.06,"f":"540"},{"t":4.45,"v":0.05,"f":"540"},{"t":4.6,"v":0.06,"f":"540"},{"t":4.7,"v":0.05,"f":"540"},{"t":5,"v":0.0495,"f":"540"},{"t":6,"v":0.0495,"f":"540"},{"t":6.8,"v":0.05,"f":"540"},{"t":6.9,"v":0.12,"f":"540"},{"t":7,"v":0.06,"f":"540"},{"t":7.1,"v":0.05,"f":"540"},{"t":7.5,"v":0.06,"f":"540"},{"t":7.6,"v":0.12,"f":"540"},{"t":7.7,"v":0.05,"f":"540"},{"t":8,"v":0.0495,"f":"540"},{"t":9,"v":0.0495,"f":"540"},{"t":10,"v":0.0495,"f":"540"},{"t":11,"v":0.0495,"f":"540"},{"t":11.35,"v":0.05,"f":"540"},{"t":11.42,"v":0.083,"f":"540"},{"t":11.5,"v":0.05,"f":"540"},{"t":12,"v":0.0495,"f":"540"},{"t":13,"v":0.0495,"f":"540"},{"t":14,"v":0.0495,"f":"540"},{"t":14.75,"v":0.05,"f":"540"},{"t":14.84,"v":0.12,"f":"540"},{"t":14.92,"v":0.06,"f":"540"},{"t":15,"v":0.05,"f":"540"},{"t":16,"v":0.0495,"f":"540"},{"t":17,"v":0.0495,"f":"540"},{"t":18,"v":0.0495,"f":"540"},{"t":19,"v":0.0495,"f":"540"},{"t":20,"v":0.0495,"f":"540"},{"t":21,"v":0.05,"f":"540"},{"t":21.15,"v":0.057,"f":"540"},{"t":21.3,"v":0.05,"f":"540"},{"t":21.55,"v":0.05,"f":"540"},{"t":21.63,"v":0.085,"f":"540"},{"t":21.72,"v":0.055,"f":"540"},{"t":21.8,"v":0.0495,"f":"540"},{"t":22,"v":0.0495,"f":"540"},{"t":23,"v":0.0495,"f":"540"},{"t":24,"v":0.0495,"f":"540"},
      {"t":0,"v":0.105,"f":"940"},{"t":0.1,"v":0.095,"f":"940"},{"t":0.3,"v":0.0925,"f":"940"},{"t":1,"v":0.0925,"f":"940"},{"t":2,"v":0.0925,"f":"940"},{"t":2.6,"v":0.0925,"f":"940"},{"t":2.65,"v":0.1,"f":"940"},{"t":2.7,"v":0.0925,"f":"940"},{"t":3.6,"v":0.0925,"f":"940"},{"t":3.7,"v":0.1,"f":"940"},{"t":3.8,"v":0.0925,"f":"940"},{"t":4.05,"v":0.0925,"f":"940"},{"t":4.12,"v":0.2,"f":"940"},{"t":4.2,"v":0.58,"f":"940"},{"t":4.28,"v":0.3,"f":"940"},{"t":4.33,"v":0.12,"f":"940"},{"t":4.4,"v":0.0925,"f":"940"},{"t":6.8,"v":0.0925,"f":"940"},{"t":6.9,"v":0.2,"f":"940"},{"t":6.95,"v":0.235,"f":"940"},{"t":7,"v":0.13,"f":"940"},{"t":7.1,"v":0.0925,"f":"940"},{"t":7.5,"v":0.0925,"f":"940"},{"t":7.57,"v":0.26,"f":"940"},{"t":7.65,"v":0.12,"f":"940"},{"t":7.75,"v":0.0925,"f":"940"},{"t":11.35,"v":0.0925,"f":"940"},{"t":11.41,"v":0.128,"f":"940"},{"t":11.48,"v":0.0925,"f":"940"},{"t":14.78,"v":0.0925,"f":"940"},{"t":14.84,"v":0.15,"f":"940"},{"t":14.92,"v":0.0925,"f":"940"},{"t":21.55,"v":0.0925,"f":"940"},{"t":21.63,"v":0.18,"f":"940"},{"t":21.7,"v":0.0925,"f":"940"},{"t":24,"v":0.0925,"f":"940"}
    ],
    "dots": [
      {"t":10.3,"v":1.05,"f":"148"},{"t":10.3,"v":0.36,"f":"272"},{"t":10.3,"v":0.34,"f":"272"},{"t":10.3,"v":0.2,"f":"540"},{"t":10.31,"v":0.38,"f":"940"},{"t":4.17,"v":0.45,"f":"940"},{"t":4.17,"v":0.38,"f":"940"},{"t":4.15,"v":0.24,"f":"540"},{"t":4.15,"v":0.19,"f":"540"},{"t":9.65,"v":0.055,"f":"148"},{"t":7.0,"v":0.17,"f":"272"},{"t":7.6,"v":0.22,"f":"940"}
    ]
  },
  "spacing": 20,
  "bounds": "flush",
  "vconcat": [
    {
      "width": 450,
      "height": 280,
      "title": {"text": "URAP Direction Finding \u00a01994-09-07", "fontSize": 16.5, "fontWeight": "bold", "color": "black", "anchor": "middle", "frame": "group", "offset": 6},
      "encoding": {
        "x": {"field": "t", "type": "quantitative", "scale": {"domain": [0, 24], "nice": false, "zero": false}, "axis": null},
        "y": {"field": "a", "type": "quantitative", "scale": {"domain": [-90, 90], "nice": false, "zero": false}, "axis": null}
      },
      "layer": [
        {
          "data": {"name": "p940"},
          "mark": {"type": "point", "shape": "M-1,-0.6H1V0.6H-1Z", "filled": true, "size": 36, "opacity": 1, "color": "#a020f0"},
          "encoding": {
            "x": {"field": "t", "type": "quantitative", "scale": {"domain": [0, 24], "nice": false, "zero": false},
              "axis": {"orient": "bottom", "values": [0,1,2,3,4,5,6,7,8,9,10,11,12,13,14,15,16,17,18,19,20,21,22,23,24], "labels": false, "title": null,
                "tickSize": {"condition": {"test": "datum.value % 6 === 0", "value": 9}, "value": 4.5}}},
            "y": {"field": "a", "type": "quantitative", "scale": {"domain": [-90, 90], "nice": false, "zero": false},
              "axis": {"orient": "left", "values": [-90,-80,-70,-60,-50,-40,-30,-20,-10,0,10,20,30,40,50,60,70,80,90],
                "labelExpr": "datum.value % 30 === 0 ? datum.label : ''", "labelFlush": true, "labelPadding": 4,
                "title": "Azimuthal angle (deg)", "titlePadding": 16,
                "tickSize": {"condition": {"test": "datum.value % 30 === 0", "value": 9}, "value": 4.5}}}
          }
        },
        {
          "data": {"name": "b540"},
          "mark": {"type": "point", "shape": "M-1,-0.6H1V0.6H-1Z", "filled": true, "size": 16, "opacity": 1, "color": "#0000ff"}
        },
        {
          "data": {"name": "c272"},
          "mark": {"type": "point", "shape": "M-1,-0.6H1V0.6H-1Z", "filled": true, "size": 14, "opacity": 1, "color": "#00aaff"}
        },
        {
          "data": {"name": "y120"},
          "mark": {"type": "point", "shape": "M-1,-0.6H1V0.6H-1Z", "filled": true, "size": 14, "opacity": 1, "color": "#cccc00"}
        },
        {
          "data": {"name": "o100"},
          "mark": {"type": "point", "shape": "M-1,-0.6H1V0.6H-1Z", "filled": true, "size": 14, "opacity": 1, "color": "#ffa500"}
        },
        {
          "data": {"name": "g148"},
          "mark": {"type": "point", "shape": "M-1,-0.6H1V0.6H-1Z", "filled": true, "size": 14, "opacity": 1, "color": "#00ff00"}
        },
        {
          "data": {"name": "jup"},
          "mark": {"type": "line", "interpolate": "step-after", "color": "black", "strokeWidth": 4},
          "encoding": {
            "x": {"field": "t", "type": "quantitative", "scale": {"domain": [0, 24], "nice": false, "zero": false},
              "axis": {"orient": "top", "values": [0,1,2,3,4,5,6,7,8,9,10,11,12,13,14,15,16,17,18,19,20,21,22,23,24], "labels": false, "title": null,
                "tickSize": {"condition": {"test": "datum.value % 6 === 0", "value": 6}, "value": 4}}},
            "y": {"field": "a", "type": "quantitative", "scale": {"domain": [-90, 90], "nice": false, "zero": false},
              "axis": {"orient": "right", "values": [-90,-80,-70,-60,-50,-40,-30,-20,-10,0,10,20,30,40,50,60,70,80,90], "labels": false, "title": null,
                "tickSize": {"condition": {"test": "datum.value % 30 === 0", "value": 8}, "value": 5}}}
          }
        },
        {
          "data": {"name": "sat"},
          "mark": {"type": "line", "interpolate": "step-after", "color": "#ff0000", "strokeWidth": 3.5}
        },
        {
          "data": {"name": "names"},
          "mark": {"type": "text", "align": "left", "baseline": "middle", "dx": 3, "fontSize": 13, "fontWeight": "bold", "color": "black"},
          "encoding": {"text": {"field": "n", "type": "nominal"}}
        }
      ],
      "resolve": {"axis": {"x": "independent", "y": "independent"}}
    },
    {
      "width": 450,
      "height": 210,
      "encoding": {
        "x": {"field": "t", "type": "quantitative", "scale": {"domain": [0, 24], "nice": false, "zero": false}, "axis": null},
        "y": {"field": "v", "type": "quantitative", "scale": {"type": "log", "domain": [0.01, 10], "nice": false}, "axis": null},
        "color": {
          "field": "f", "type": "nominal",
          "scale": {"domain": ["52","100","120","148","272","540","940"], "range": ["#ff0000","#ffa500","#cccc00","#00ff00","#00aaff","#0000ff","#a020f0"]},
          "legend": {
            "orient": "bottom", "direction": "horizontal",
            "title": "Frequencies (kHz):", "titleOrient": "left", "titleFontSize": 13.5, "titleFontWeight": "bold", "titleColor": "black", "titlePadding": -5,
            "labelFontSize": 13.5, "labelFontWeight": "bold",
            "labelColor": {"expr": "['#ff0000','#ffa500','#cccc00','#00ff00','#00aaff','#0000ff','#a020f0'][indexof(['52','100','120','148','272','540','940'], datum.value)]"},
            "symbolSize": 0, "symbolStrokeWidth": 0, "symbolOpacity": 0, "labelOffset": 0,
            "columnPadding": 13.5, "gridAlign": "all", "offset": 12, "padding": 0
          }
        }
      },
      "layer": [
        {
          "data": {"name": "int"},
          "mark": {"type": "line", "strokeWidth": 2.5, "interpolate": "linear"},
          "encoding": {
            "x": {"field": "t", "type": "quantitative", "scale": {"domain": [0, 24], "nice": false, "zero": false},
              "axis": {"orient": "bottom", "values": [0,1,2,3,4,5,6,7,8,9,10,11,12,13,14,15,16,17,18,19,20,21,22,23,24],
                "labelExpr": "datum.value % 6 === 0 ? datum.label : ''", "labelFlush": false, "labelPadding": 8,
                "title": "time - hours on 1994-09-07", "titlePadding": 10,
                "tickSize": {"condition": {"test": "datum.value % 6 === 0", "value": 9}, "value": 4.5}}},
            "y": {"field": "v", "type": "quantitative", "scale": {"type": "log", "domain": [0.01, 10], "nice": false},
              "axis": {"orient": "left", "values": [0.01,0.0215,0.0464,0.1,0.215,0.464,1,2.15,4.64,10],
                "labelExpr": "indexof([0.01,0.1,1,10], datum.value) >= 0 ? format(datum.value, '.2f') : ''", "labelFlush": true, "labelPadding": 5,
                "title": "Intensity (microvolt/sqrt(Hz))", "titlePadding": 18,
                "tickSize": {"condition": {"test": "indexof([0.01,0.1,1,10], datum.value) >= 0", "value": 9}, "value": 4.5}}}
          }
        },
        {
          "data": {"name": "dots"},
          "mark": {"type": "point", "shape": "square", "filled": true, "size": 9, "opacity": 1},
          "encoding": {
            "x": {"field": "t", "type": "quantitative", "scale": {"domain": [0, 24], "nice": false, "zero": false},
              "axis": {"orient": "top", "values": [0,1,2,3,4,5,6,7,8,9,10,11,12,13,14,15,16,17,18,19,20,21,22,23,24], "labels": false, "title": null,
                "tickSize": {"condition": {"test": "datum.value % 6 === 0", "value": 6}, "value": 4}}},
            "y": {"field": "v", "type": "quantitative", "scale": {"type": "log", "domain": [0.01, 10], "nice": false},
              "axis": {"orient": "right", "values": [0.01,0.0215,0.0464,0.1,0.215,0.464,1,2.15,4.64,10], "labels": false, "title": null,
                "tickSize": {"condition": {"test": "indexof([0.01,0.1,1,10], datum.value) >= 0", "value": 8}, "value": 5}}}
          }
        }
      ],
      "resolve": {"axis": {"x": "independent", "y": "independent"}}
    }
  ]
}
